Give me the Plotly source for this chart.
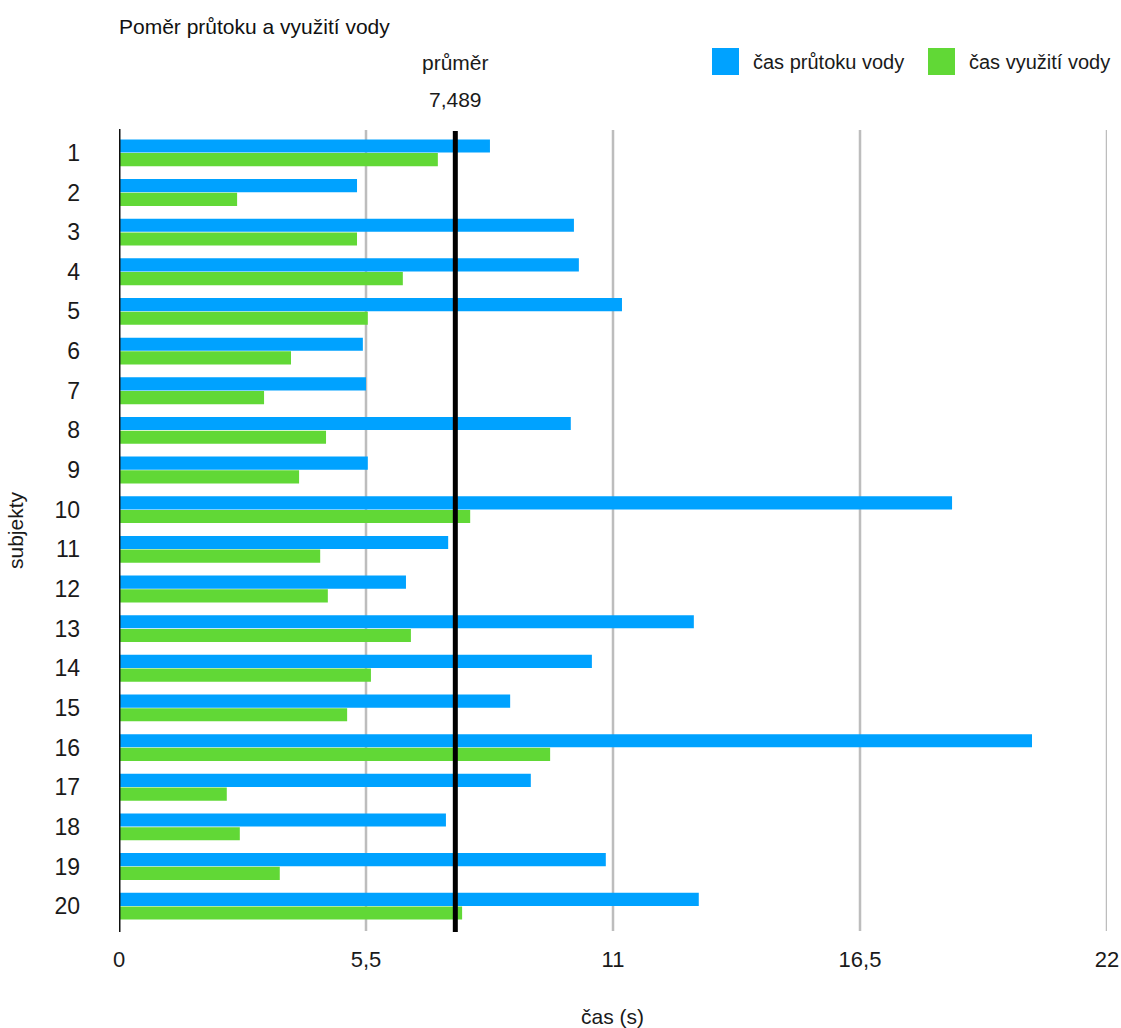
import plotly.graph_objects as go

# Subjects and measured times (seconds)
subjects = [str(i) for i in range(1, 21)]
flow_time = [8.26, 5.30, 10.13, 10.24, 11.20, 5.43, 5.50, 10.06, 5.54, 18.55,
             7.33, 6.39, 12.80, 10.53, 8.71, 20.33, 9.17, 7.28, 10.84, 12.91]
use_time = [7.10, 2.63, 5.30, 6.32, 5.54, 3.83, 3.23, 4.61, 4.01, 7.82,
            4.48, 4.65, 6.50, 5.61, 5.08, 9.60, 2.40, 2.69, 3.58, 7.64]
mean_value = 7.489
mean_label = "7,489"

x_ticks = [0, 5.5, 11, 16.5, 22]
x_tick_text = ["0", "5,5", "11", "16,5", "22"]

series_names = ["čas průtoku vody", "čas využití vody"]
colors = ["#00A2FF", "#61D836"]

FONT = "Liberation Sans Narrow, Arial Narrow, Liberation Sans, sans-serif"
TEXT = "#1a1a1a"

W, H = 1121, 1028
ML, MR, MT, MB = 119, 14, 133, 102
PW, PH = W - ML - MR, H - MT - MB


def px_x(p):
    """pixel column -> paper x"""
    return (p - ML) / PW


def px_y(p):
    """pixel row -> paper y"""
    return (H - MB - p) / PH


fig = go.Figure()
for name, vals, col in zip(series_names, [flow_time, use_time], colors):
    fig.add_trace(go.Bar(
        y=subjects, x=vals, orientation="h", name=name,
        marker=dict(color=col, line=dict(width=0)),
        showlegend=False,
    ))

# vertical grid lines
for t in x_ticks[1:]:
    fig.add_shape(type="line", xref="x", yref="paper", x0=t, x1=t,
                  y0=px_y(931), y1=px_y(130), line=dict(color="#BDBDBD", width=2.5),
                  layer="below")

# left axis line at zero
fig.add_shape(type="line", xref="x", yref="paper", x0=0, x1=0,
              y0=px_y(932), y1=px_y(129),
              line=dict(color="#111111", width=3), layer="above")

# vertical average line
fig.add_shape(type="line", xref="x", yref="paper", x0=mean_value, x1=mean_value,
              y0=px_y(932), y1=px_y(131), line=dict(color="black", width=5),
              layer="above")
fig.add_annotation(x=mean_value, xref="x", y=px_y(63), yref="paper",
                   text="průměr", showarrow=False, yanchor="middle",
                   font=dict(family=FONT, size=21, color=TEXT))
fig.add_annotation(x=mean_value, xref="x", y=px_y(100), yref="paper",
                   text=mean_label, showarrow=False, yanchor="middle",
                   font=dict(family=FONT, size=21, color=TEXT))

# axis titles
fig.add_annotation(x=px_x(612), y=px_y(1016), xref="paper", yref="paper",
                   text="čas (s)", showarrow=False, yanchor="middle",
                   font=dict(family=FONT, size=21, color=TEXT))
fig.add_annotation(x=px_x(15), y=px_y(530), xref="paper", yref="paper",
                   text="subjekty", showarrow=False, textangle=-90,
                   xanchor="center", yanchor="middle",
                   font=dict(family=FONT, size=21, color=TEXT))

# custom legend (large square swatches)
legend_items = [(712, series_names[0], colors[0]), (928, series_names[1], colors[1])]
for lx, name, col in legend_items:
    fig.add_shape(type="rect", xref="paper", yref="paper",
                  x0=px_x(lx), x1=px_x(lx + 27), y0=px_y(75), y1=px_y(48),
                  fillcolor=col, line=dict(width=0))
    fig.add_annotation(xref="paper", yref="paper", x=px_x(lx + 39), y=px_y(62),
                       text=name, showarrow=False, xanchor="left", yanchor="middle",
                       font=dict(family=FONT, size=20, color=TEXT))

fig.update_layout(
    width=W, height=H,
    margin=dict(l=ML, r=MR, t=MT, b=MB, autoexpand=False),
    plot_bgcolor="white", paper_bgcolor="white",
    barmode="group", bargap=0.31, bargroupgap=0.04,
    font=dict(family=FONT, size=20, color=TEXT),
    title=dict(text="Poměr průtoku a využití vody", x=ML / W, xanchor="left",
               y=1 - 27 / H, yanchor="middle",
               font=dict(family=FONT, size=21, color="#111111")),
    xaxis=dict(range=[0, 22], tickvals=x_ticks, ticktext=x_tick_text,
               showgrid=False, zeroline=False, showline=False, ticks="",
               automargin=False, ticklabelstandoff=18,
               tickfont=dict(family=FONT, size=22, color=TEXT)),
    yaxis=dict(autorange="reversed", showgrid=False, zeroline=False,
               showline=False, ticks="", automargin=False, ticklabelstandoff=38,
               tickfont=dict(family=FONT, size=23, color=TEXT)),
)

fig.write_html("out.html")
